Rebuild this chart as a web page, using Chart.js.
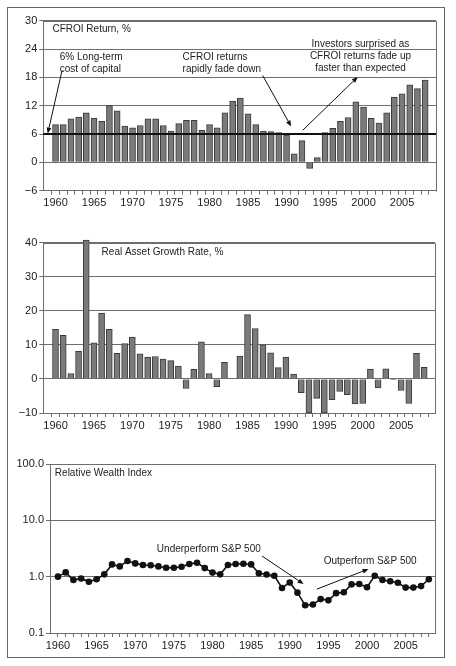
<!DOCTYPE html>
<html>
<head>
<meta charset="utf-8">
<script src="https://cdn.jsdelivr.net/npm/chart.js@4.4.1/dist/chart.umd.min.js"></script>
<style>
    body { margin: 0; background: #fff; }
    #wrap { position: relative; width: 456px; height: 666px; }
    #wrap canvas { position: absolute; left: 0; }
    #frame {
        position: absolute; left: 7px; top: 7px; width: 438px; height: 651px;
        box-sizing: border-box; border: 1.5px solid #666; pointer-events: none;
    }
</style>
</head>
<body>
<div id="wrap">
    <canvas id="cfroi" width="456" height="215" style="top:0"></canvas>
    <canvas id="growth" width="456" height="225" style="top:215px"></canvas>
    <canvas id="wealth" width="456" height="226" style="top:440px"></canvas>
    <div id="frame"></div>
</div>
<script>
// ========================================
// DATA
// ========================================

const years = [
    1960, 1961, 1962, 1963, 1964, 1965, 1966, 1967, 1968, 1969,
    1970, 1971, 1972, 1973, 1974, 1975, 1976, 1977, 1978, 1979,
    1980, 1981, 1982, 1983, 1984, 1985, 1986, 1987, 1988, 1989,
    1990, 1991, 1992, 1993, 1994, 1995, 1996, 1997, 1998, 1999,
    2000, 2001, 2002, 2003, 2004, 2005, 2006, 2007, 2008
];

// CFROI return, %
const cfroiReturn = [
    8.0, 8.0, 9.2, 9.6, 10.5, 9.4, 8.7, 12.0, 10.9, 7.7,
    7.3, 7.8, 9.2, 9.2, 7.8, 6.6, 8.2, 8.9, 8.9, 6.8,
    8.0, 7.3, 10.5, 13.0, 13.6, 10.3, 8.0, 6.6, 6.5, 6.3,
    5.8, 1.8, 4.6, -1.3, 1.0, 6.3, 7.2, 8.7, 9.5, 12.8,
    11.7, 9.3, 8.3, 10.5, 13.8, 14.5, 16.4, 15.6, 17.4
];

// Real asset growth rate, %
const assetGrowth = [
    14.6, 12.8, 1.6, 8.1, 40.8, 10.6, 19.3, 14.6, 7.5, 10.4,
    12.3, 7.4, 6.4, 6.6, 5.8, 5.4, 3.8, -2.8, 2.8, 10.9,
    1.6, -2.3, 4.9, 0, 6.7, 18.9, 14.8, 10.0, 7.7, 3.3,
    6.4, 1.4, -4.0, -10, -5.7, -10, -6.1, -3.7, -4.6, -7.3,
    -7.2, 2.9, -2.6, 3.0, -0.2, -3.4, -7.2, 7.5, 3.4
];

// Relative wealth index (log scale)
const wealthIndex = [
    1.00, 1.19, 0.87, 0.93, 0.81, 0.90, 1.10, 1.65, 1.52, 1.90,
    1.72, 1.61, 1.59, 1.52, 1.44, 1.44, 1.50, 1.68, 1.77, 1.42,
    1.18, 1.10, 1.61, 1.68, 1.70, 1.65, 1.15, 1.09, 1.04, 0.63,
    0.79, 0.52, 0.31, 0.32, 0.40, 0.38, 0.51, 0.53, 0.73, 0.74,
    0.65, 1.04, 0.87, 0.83, 0.78, 0.64, 0.64, 0.68, 0.90
];

const cfroiTicks = [-6, 0, 6, 12, 18, 24, 30];
const growthTicks = [-10, 0, 10, 20, 30, 40];
const wealthTicks = [0.1, 1, 10, 100];
const costOfCapital = 6;

// ========================================
// STYLE
// ========================================

const FONT = '"Liberation Sans", Arial, Helvetica, sans-serif';
const GRID = '#6e6e6e';
const TEXT = '#222';
const BAR_FILL = '#7a7a7a';
const BAR_EDGE = '#3a3a3a';

Chart.defaults.font.family = FONT;
Chart.defaults.font.size = 11;
Chart.defaults.color = TEXT;

// ========================================
// PLUGIN: frame, reference line, notes, arrows
// ========================================

function drawArrow(ctx, x1, y1, x2, y2) {
    const ang = Math.atan2(y2 - y1, x2 - x1);
    const len = 6, half = 2.4;
    ctx.beginPath();
    ctx.moveTo(x1, y1);
    ctx.lineTo(x2 - Math.cos(ang) * len * 0.8, y2 - Math.sin(ang) * len * 0.8);
    ctx.stroke();
    ctx.beginPath();
    ctx.moveTo(x2, y2);
    ctx.lineTo(x2 - Math.cos(ang) * len - Math.sin(ang) * half, y2 - Math.sin(ang) * len + Math.cos(ang) * half);
    ctx.lineTo(x2 - Math.cos(ang) * len + Math.sin(ang) * half, y2 - Math.sin(ang) * len - Math.cos(ang) * half);
    ctx.closePath();
    ctx.fill();
}

const notesPlugin = {
    id: 'notes',
    afterDatasetsDraw(chart, args, opts) {
        const { ctx, chartArea: a } = chart;
        const xs = chart.scales.x, ys = chart.scales.y;
        ctx.save();

        // right + top edge of the plot box
        ctx.strokeStyle = GRID;
        ctx.lineWidth = 1;
        ctx.beginPath();
        ctx.moveTo(Math.round(a.left) + 0.5, Math.round(a.top) + 0.5);
        ctx.lineTo(Math.round(a.right) + 0.5, Math.round(a.top) + 0.5);
        ctx.lineTo(Math.round(a.right) + 0.5, Math.round(a.bottom) + 0.5);
        ctx.stroke();

        if (opts.refLine != null) {
            const py = ys.getPixelForValue(opts.refLine);
            ctx.strokeStyle = '#111';
            ctx.lineWidth = 2;
            ctx.beginPath();
            ctx.moveTo(a.left, py);
            ctx.lineTo(a.right, py);
            ctx.stroke();
        }

        ctx.font = '10px ' + FONT;
        ctx.fillStyle = TEXT;
        ctx.textBaseline = 'middle';
        (opts.texts || []).forEach(t => {
            ctx.textAlign = t.align || 'left';
            const px = xs.getPixelForValue(t.x);
            const py = ys.getPixelForValue(t.y);
            t.lines.forEach((line, i) => ctx.fillText(line, px, py + i * 11.8));
        });

        ctx.strokeStyle = '#111';
        ctx.fillStyle = '#111';
        ctx.lineWidth = 1;
        (opts.arrows || []).forEach(ar => {
            drawArrow(ctx,
                xs.getPixelForValue(ar.from[0]), ys.getPixelForValue(ar.from[1]),
                xs.getPixelForValue(ar.to[0]), ys.getPixelForValue(ar.to[1]));
        });
        ctx.restore();
    }
};

// ========================================
// CHART HELPERS
// ========================================

function toPoints(values) {
    return values.map((v, i) => ({ x: years[i], y: v }));
}

function fmtTick(v) {
    return v < 0 ? '\u2212' + Math.abs(v) : String(v);
}

function xScale(min, max) {
    return {
        type: 'linear',
        min: min,
        max: max,
        afterBuildTicks: s => { s.ticks = years.map(y => ({ value: y })); },
        afterFit: s => { s.height = 18; },
        ticks: {
            autoSkip: false,
            maxRotation: 0,
            padding: 2,
            callback: v => (v % 5 === 0 ? String(v) : '')
        },
        grid: { drawOnChartArea: false, drawTicks: true, tickLength: 4, color: GRID },
        border: { color: GRID, width: 1 }
    };
}

function yScale(extra, axisWidth, tickValues, fmt) {
    return Object.assign({
        afterBuildTicks: s => { s.ticks = tickValues.map(v => ({ value: v })); },
        afterFit: s => { s.width = axisWidth; },
        ticks: { padding: 2, callback: fmt },
        grid: { color: GRID, tickLength: 4, lineWidth: 1 },
        border: { color: GRID, width: 1 }
    }, extra);
}

function baseOptions(pad) {
    return {
        responsive: false,
        animation: false,
        layout: { padding: pad },
        plugins: { legend: { display: false }, tooltip: { enabled: false } }
    };
}

// ========================================
// CHART 1: CFROI RETURN
// ========================================

const opt1 = baseOptions({ left: 0, right: 20, top: 20.7, bottom: 6.3 });
opt1.scales = {
    x: xScale(1958.93, 2008.89),
    y: yScale({ min: -6, max: 30 }, 43.3, cfroiTicks, fmtTick)
};
opt1.plugins.notes = {
    refLine: costOfCapital,
    texts: [
        { x: 1959.6, y: 28.2, lines: ['CFROI Return, %'] },
        { x: 1960.55, y: 22.3, lines: ['6% Long-term', 'cost of capital'] },
        { x: 1976.5, y: 22.3, lines: ['CFROI returns', 'rapidly fade down'] },
        { x: 1999.6, y: 25.0, align: 'center', lines: ['Investors surprised as', 'CFROI returns fade up', 'faster than expected'] }
    ],
    arrows: [
        { from: [1960.85, 19.5], to: [1958.98, 6.1] },
        { from: [1986.9, 18.4], to: [1990.6, 7.6] },
        { from: [1992.1, 6.8], to: [1999.25, 18.1] }
    ]
};

new Chart(document.getElementById('cfroi'), {
    type: 'bar',
    data: {
        datasets: [{
            data: toPoints(cfroiReturn),
            backgroundColor: BAR_FILL,
            borderColor: BAR_EDGE,
            borderWidth: 1,
            barThickness: 6
        }]
    },
    options: opt1,
    plugins: [notesPlugin]
});

// ========================================
// CHART 2: REAL ASSET GROWTH
// ========================================

const opt2 = baseOptions({ left: 0, right: 21, top: 27.7, bottom: 9 });
opt2.scales = {
    x: xScale(1958.93, 2008.89),
    y: yScale({ min: -10, max: 40 }, 43.3, growthTicks, fmtTick)
};
opt2.plugins.notes = {
    texts: [{ x: 1966.0, y: 37.3, lines: ['Real Asset Growth Rate, %'] }]
};

new Chart(document.getElementById('growth'), {
    type: 'bar',
    data: {
        datasets: [{
            data: toPoints(assetGrowth),
            backgroundColor: BAR_FILL,
            borderColor: BAR_EDGE,
            borderWidth: 1,
            barThickness: 6,
            clip: false
        }]
    },
    options: opt2,
    plugins: [notesPlugin]
});

// ========================================
// CHART 3: RELATIVE WEALTH INDEX
// ========================================

const opt3 = baseOptions({ left: 0, right: 21, top: 24, bottom: 15 });
opt3.scales = {
    x: xScale(1958.97, 2008.8),
    y: yScale({ type: 'logarithmic', min: 0.1, max: 100 }, 50, wealthTicks, v => Number(v).toFixed(1))
};
opt3.plugins.notes = {
    texts: [
        { x: 1959.6, y: 69, lines: ['Relative Wealth Index'] },
        { x: 1972.8, y: 3.1, lines: ['Underperform S&P 500'] },
        { x: 1994.4, y: 1.9, lines: ['Outperform S&P 500'] }
    ],
    arrows: [
        { from: [1986.4, 2.33], to: [1991.8, 0.74] },
        { from: [1993.5, 0.60], to: [2000.2, 1.37] }
    ]
};

new Chart(document.getElementById('wealth'), {
    type: 'line',
    data: {
        datasets: [{
            data: toPoints(wealthIndex),
            borderColor: '#111',
            borderWidth: 1.6,
            pointRadius: 3.3,
            pointBackgroundColor: '#111',
            pointBorderWidth: 0,
            tension: 0
        }]
    },
    options: opt3,
    plugins: [notesPlugin]
});
</script>
</body>
</html>
